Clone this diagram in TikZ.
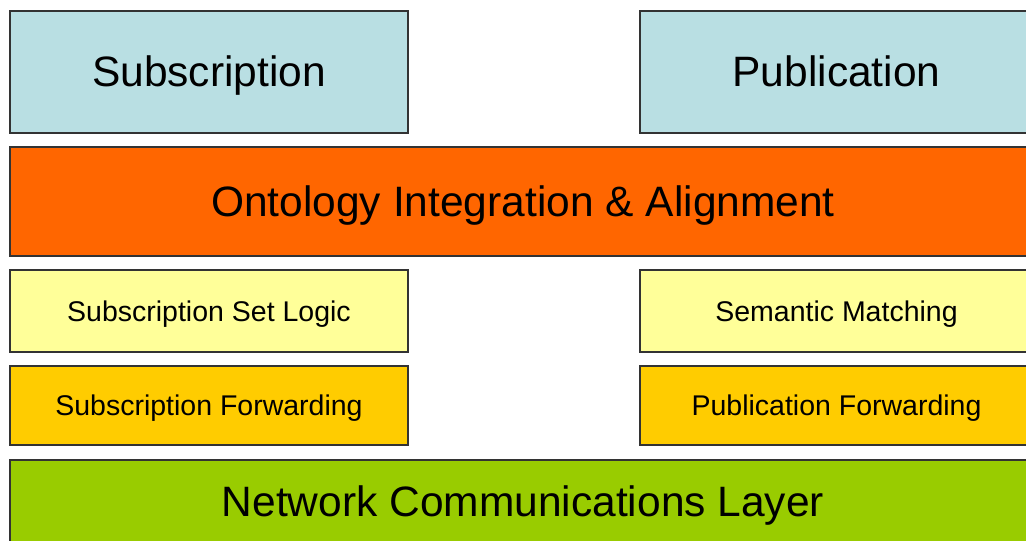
\documentclass[tikz,border=0pt]{standalone}
\usepackage{fontspec}
\setmainfont{Liberation Sans}
\definecolor{paleblue}{HTML}{B9DFE3}
\definecolor{flame}{HTML}{FF6600}
\definecolor{paleyellow}{HTML}{FFFF99}
\definecolor{gold}{HTML}{FFCC00}
\definecolor{lime}{HTML}{99CC00}
\definecolor{edge}{HTML}{333333}
\begin{document}
\begin{tikzpicture}[x=1pt,y=-1pt,
  layer/.style={draw=edge, line width=2pt, rectangle, inner sep=0pt, text=black},
  bigtext/.style={font=\fontsize{42.5}{50}\selectfont, text height=30.5pt, text depth=1.5pt},
  smalltext/.style={font=\fontsize{28.5}{34}\selectfont, text height=20.5pt, text depth=0.5pt}]
  \useasboundingbox (0,0) rectangle (1026,541);
  \clip (0,0) rectangle (1026,541);
  \fill[white] (0,0) rectangle (1026,541);
  % top row: the two entry points
  \node[layer, bigtext, fill=paleblue, minimum width=398pt, minimum height=122pt] (sub) at (209,72) {Subscription};
  \node[layer, bigtext, fill=paleblue, minimum width=393pt, minimum height=122pt] (pub) at (836.5,72) {Publication};
  % shared ontology layer
  \node[layer, bigtext, fill=flame, minimum width=1026pt, minimum height=109pt] (onto) at (523,201.5) {Ontology Integration \& Alignment};
  % per-side processing
  \node[layer, smalltext, fill=paleyellow, minimum width=398pt, minimum height=82pt] (sublogic) at (209,311) {Subscription Set Logic};
  \node[layer, smalltext, fill=paleyellow, minimum width=393pt, minimum height=82pt] (match) at (836.5,311) {Semantic Matching};
  \node[layer, smalltext, fill=gold, minimum width=398pt, minimum height=79pt] (subfwd) at (209,405.5) {Subscription Forwarding};
  \node[layer, smalltext, fill=gold, minimum width=393pt, minimum height=79pt] (pubfwd) at (836.5,405.5) {Publication Forwarding};
  % transport layer
  \node[layer, bigtext, fill=lime, minimum width=1026pt, minimum height=84pt] (net) at (523,502) {Network Communications Layer};
\end{tikzpicture}
\end{document}
